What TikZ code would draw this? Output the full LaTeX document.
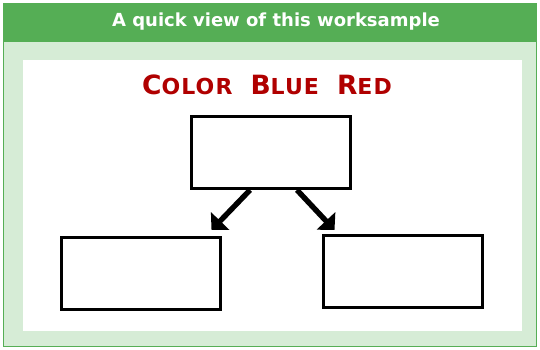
\documentclass[tikz,border=0pt]{standalone}
\usepackage{fontspec}
\setmainfont{DejaVu Sans}
\usetikzlibrary{arrows.meta}
\definecolor{headgreen}{RGB}{85,174,85}
\definecolor{palegreen}{RGB}{214,236,214}
\definecolor{titlered}{RGB}{176,0,0}
\newcommand{\initcap}[1]{{\fontsize{26.5}{28}\selectfont #1}}

\begin{document}
\begin{tikzpicture}[
    x = 1pt, y = -1pt,
    box/.style = {draw, line width = 3pt, minimum width = 159pt,
                  minimum height = 72pt, inner sep = 0pt},
    arr/.style = {line width = 5.4pt, -{Triangle[length = 12.5pt, width = 25pt]}}]

\useasboundingbox (0,0) rectangle (540,350);
\fill[white] (0,0) rectangle (540,350);
\filldraw[fill = palegreen, draw = headgreen, line width = 1.5pt] (3.5,3.5) rectangle (536.5,346.5);
\fill[headgreen] (3.5,3.5) rectangle (536.5,42);
\fill[white] (23,60) rectangle (522,331);

\path (276,22) node[text = white, font = \bfseries\fontsize{18}{20}\selectfont] (head) {A quick view of this worksample}
	  (267,85) node[text = titlered, font = \bfseries\fontsize{22}{24}\selectfont\addfontfeature{LetterSpace=5}] (title)
	  {\initcap{C}OLOR\hspace{18pt}\initcap{B}LUE\hspace{18pt}\initcap{R}ED};

\node[box] (top)   at (271,152.5) {};
\node[box] (left)  at (140.5,273.5) {};
\node[box] (right) at (402.5,271.5) {};

\draw[arr] ([xshift = -21pt]top.south) -- ([xshift = -10pt, yshift = 6pt]left.north east);
\draw[arr] ([xshift = 26pt]top.south) -- ([xshift = 13pt, yshift = 4pt]right.north west);
\end{tikzpicture}
\end{document}
